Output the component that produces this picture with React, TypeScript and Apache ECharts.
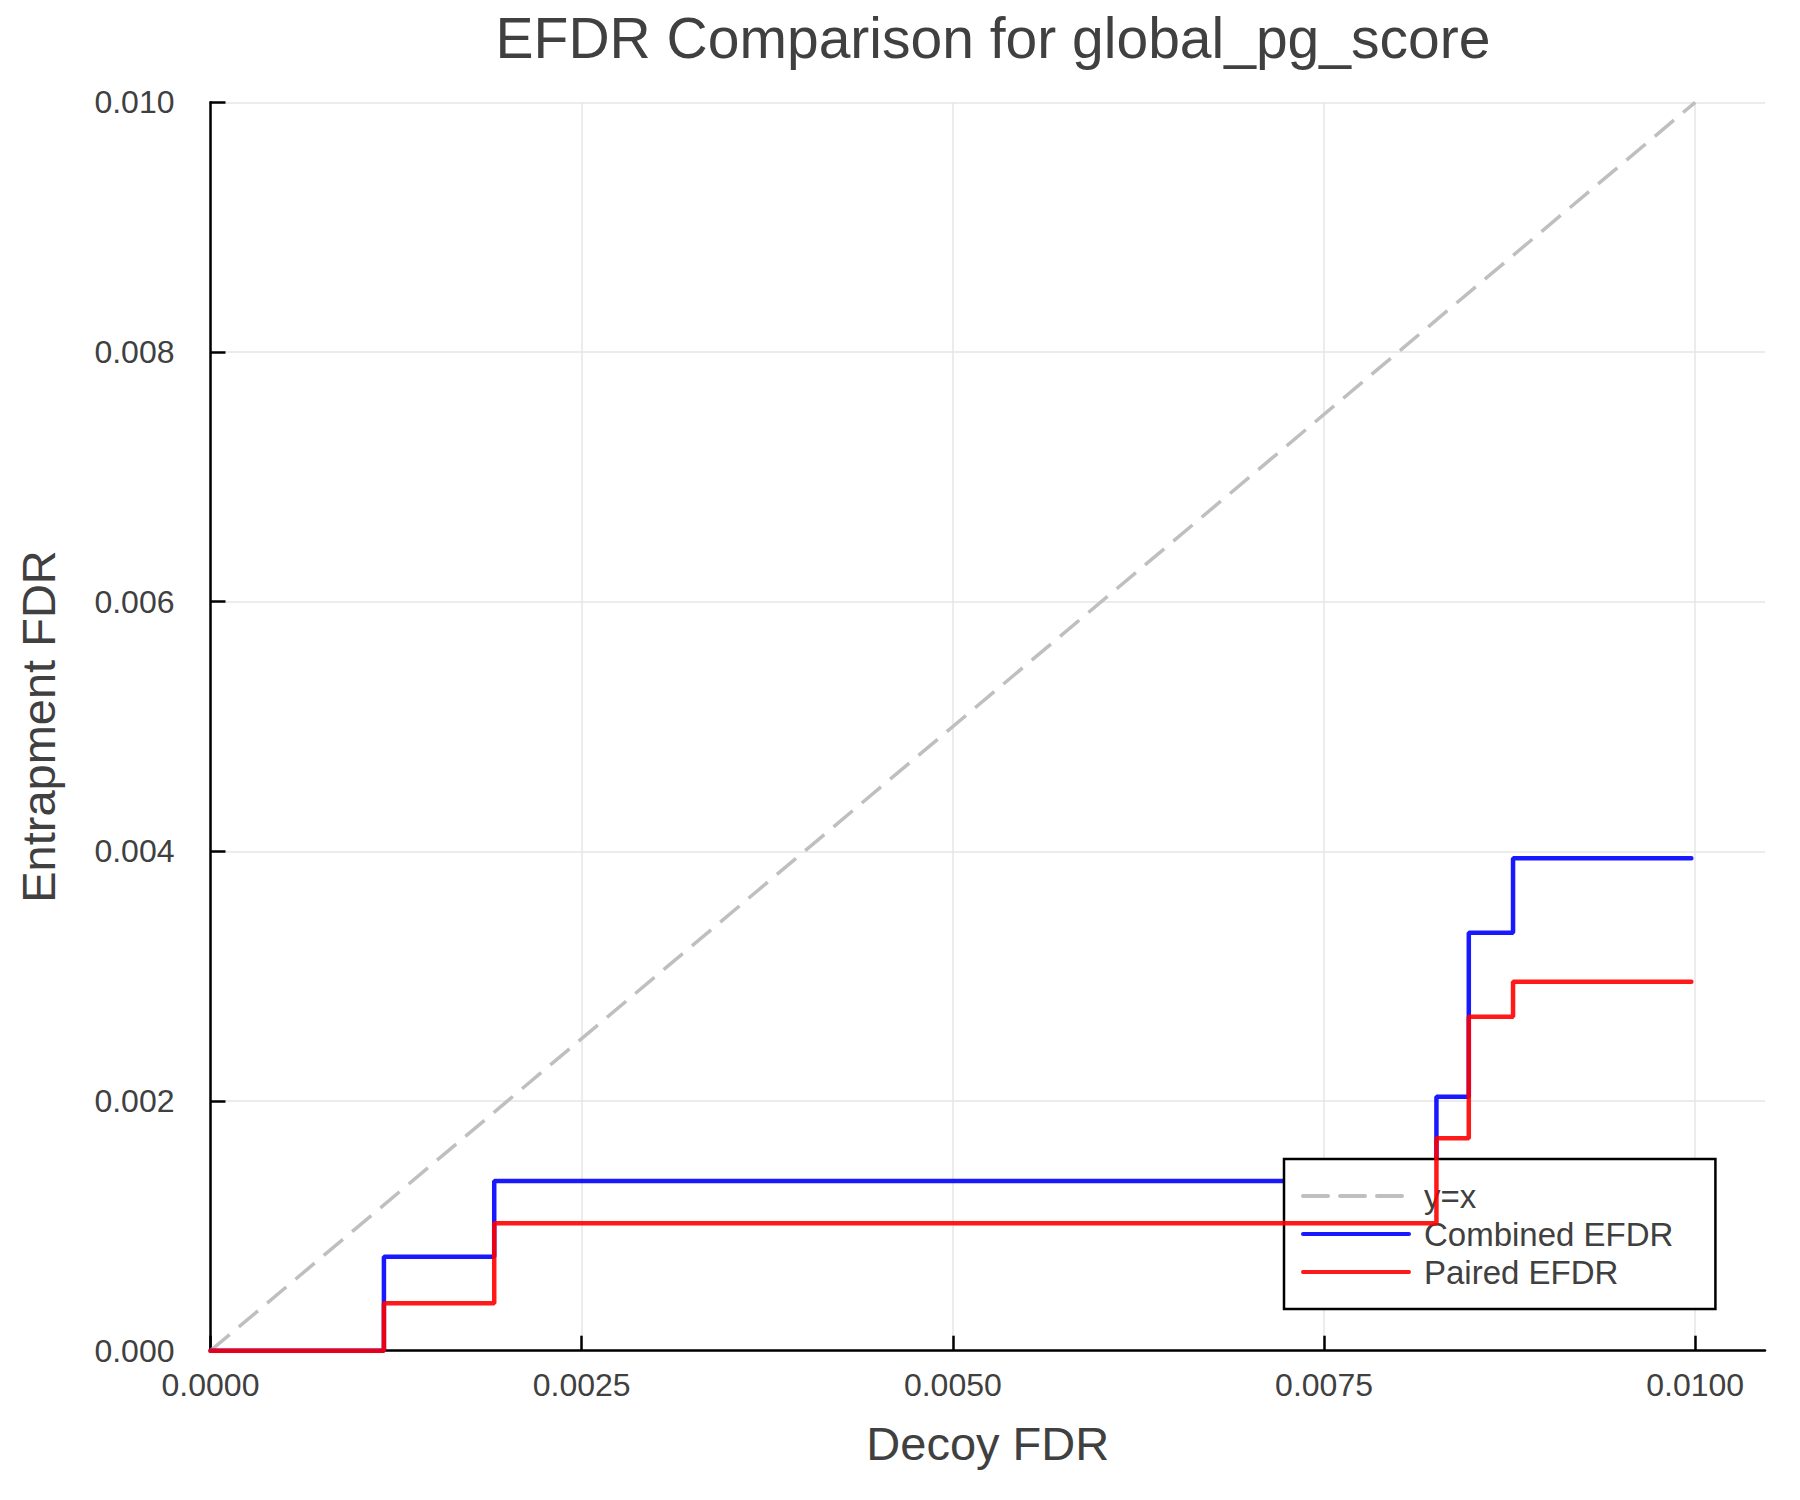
import React, { useEffect, useRef } from 'react';
import * as echarts from 'echarts';

// step points (x = decoy FDR)
const decoyFdr = [0, 0.001168, 0.001911, 0.008257, 0.008475, 0.008773, 0.009974];
const combinedEfdr = [0, 0.000753, 0.001359, 0.002035, 0.003348, 0.003944, 0.003944];
const pairedEfdr = [0, 0.00038, 0.001021, 0.001701, 0.002675, 0.002956, 0.002956];
const identityLine = [0, 0.01];

const xTicks = [0, 0.0025, 0.005, 0.0075, 0.01];
const yTicks = [0, 0.002, 0.004, 0.006, 0.008, 0.01];

const seriesNames = ['y=x', 'Combined EFDR', 'Paired EFDR'];

const FONT = '"Liberation Sans", Arial, Helvetica, sans-serif';
const TEXT = '#404040';

const App: React.FC = () => {
  const chartRef = useRef<HTMLDivElement>(null);

  useEffect(() => {
    document.body.style.margin = '0';
    if (!chartRef.current) return;
    const chart = echarts.init(chartRef.current, null, { renderer: 'svg' });

    const option = {
      animation: false,
      backgroundColor: '#ffffff',
      textStyle: { fontFamily: FONT },
      title: {
        text: 'EFDR Comparison for global_pg_score',
        left: 988,
        top: 4,
        textAlign: 'center',
        textStyle: { fontSize: 57, fontWeight: 'normal', color: TEXT, fontFamily: FONT }
      },
      grid: {
        left: 210.5,
        right: 35,
        top: 102.3,
        bottom: 149.3,
        containLabel: false,
        outerBoundsMode: 'none'
      },
      legend: {
        data: seriesNames,
        orient: 'vertical',
        left: 1284,
        top: 1159,
        backgroundColor: '#ffffff',
        borderColor: '#000000',
        borderWidth: 2.5,
        borderRadius: 0,
        padding: [18, 42, 18, 17],
        itemGap: 0,
        itemWidth: 106,
        itemHeight: 14,
        itemStyle: { opacity: 0 },
        lineStyle: { width: 4, cap: 'round' },
        textStyle: {
          fontSize: 33,
          lineHeight: 38,
          color: TEXT,
          fontFamily: FONT,
          padding: [0, 0, 0, 10]
        }
      },
      xAxis: {
        type: 'value',
        name: 'Decoy FDR',
        nameLocation: 'middle',
        nameGap: 69,
        nameTextStyle: { fontSize: 47, color: TEXT, fontFamily: FONT },
        min: 0,
        max: 0.01047,
        axisLine: { show: true, onZero: false, lineStyle: { color: '#000000', width: 2.5 } },
        axisTick: {
          show: true,
          inside: true,
          length: 15,
          customValues: xTicks,
          lineStyle: { color: '#000000', width: 2.5 }
        },
        axisLabel: {
          customValues: xTicks,
          margin: 18,
          fontSize: 32,
          color: TEXT,
          fontFamily: FONT,
          formatter: (v: number) => v.toFixed(4)
        },
        splitLine: { show: true, lineStyle: { color: '#e6e6e6', width: 1.5 } }
      },
      yAxis: {
        type: 'value',
        name: 'Entrapment FDR',
        nameLocation: 'middle',
        nameGap: 149,
        nameRotate: 90,
        nameTextStyle: { fontSize: 47, color: TEXT, fontFamily: FONT },
        min: 0,
        max: 0.01,
        interval: 0.002,
        axisLine: { show: true, onZero: false, lineStyle: { color: '#000000', width: 2.5 } },
        axisTick: {
          show: true,
          inside: true,
          length: 15,
          customValues: yTicks,
          lineStyle: { color: '#000000', width: 2.5 }
        },
        axisLabel: {
          customValues: yTicks,
          margin: 36,
          fontSize: 32,
          color: TEXT,
          fontFamily: FONT,
          formatter: (v: number) => v.toFixed(3)
        },
        splitLine: { show: true, lineStyle: { color: '#e6e6e6', width: 1.5 } }
      },
      series: [
        {
          name: seriesNames[0],
          type: 'line',
          data: identityLine.map((v) => [v, v]),
          symbol: 'none',
          lineStyle: { color: '#bfbfbf', width: 3.5, type: [25, 12] },
          itemStyle: { color: '#bfbfbf' },
          z: 2
        },
        {
          name: seriesNames[1],
          type: 'line',
          step: 'end',
          data: decoyFdr.map((x, i) => [x, combinedEfdr[i]]),
          symbol: 'none',
          lineStyle: { color: '#0000ff', width: 4.5, opacity: 0.9, cap: 'round' },
          itemStyle: { color: '#0000ff' },
          z: 3
        },
        {
          name: seriesNames[2],
          type: 'line',
          step: 'end',
          data: decoyFdr.map((x, i) => [x, pairedEfdr[i]]),
          symbol: 'none',
          lineStyle: { color: '#ff0000', width: 4.5, opacity: 0.9, cap: 'round' },
          itemStyle: { color: '#ff0000' },
          z: 4
        }
      ]
    };

    chart.setOption(option);

    return () => {
      chart.dispose();
    };
  }, []);

  return <div ref={chartRef} style={{ width: '1800px', height: '1500px' }}></div>;
};

export default App;
